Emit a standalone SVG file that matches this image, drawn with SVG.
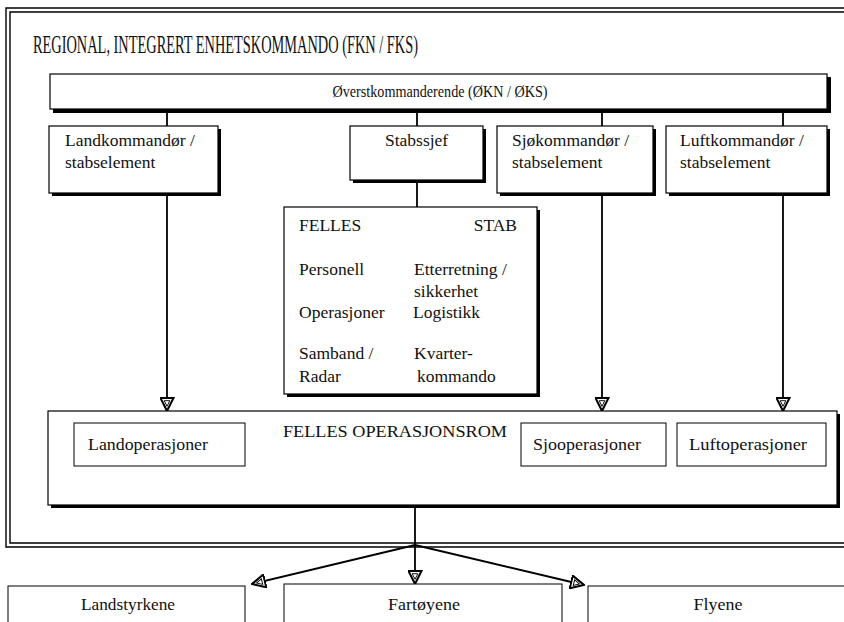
<svg xmlns="http://www.w3.org/2000/svg" width="844" height="622" viewBox="0 0 844 622">
  <defs>
    <style>
      .box { fill: #fff; stroke: #000; stroke-width: 1.2; }
      .shadow { fill: #000; }
      .thin { fill: #fff; stroke: #000; stroke-width: 1; }
      .frame { fill: none; stroke: #000; stroke-width: 1.4; }
      .t { font-family: "Liberation Serif", "Times New Roman", serif; font-size: 17.5px; fill: #111; }
      .title { font-family: "Liberation Serif", "Times New Roman", serif; font-size: 25px; fill: #111; }
      .wire { stroke: #000; stroke-width: 1.8; fill: none; }
    </style>
    <!-- hollow triangular arrowhead, drawn pointing along +x -->
    <marker id="tri" viewBox="0 0 16 16" refX="15" refY="8" markerWidth="15" markerHeight="15" markerUnits="userSpaceOnUse" orient="auto">
      <path d="M1,1 L15,8 L1,15 Z" fill="#fff" stroke="#000" stroke-width="2.2"/>
      <path d="M4,5 L10,8 L4,11 Z" fill="none" stroke="#000" stroke-width="1"/>
    </marker>
  </defs>

  <rect width="844" height="622" fill="#fff"/>

  <!-- outer double frame of the regional command -->
  <g id="frame">
    <path class="frame" d="M844,8 H6 V547 H844"/>
    <path class="frame" d="M844,12 H10 V543 H844"/>
    <text class="title" x="33" y="53" textLength="385" lengthAdjust="spacingAndGlyphs">REGIONAL, INTEGRERT ENHETSKOMMANDO (FKN / FKS)</text>
  </g>

  <!-- connectors -->
  <g id="connectors">
    <line class="wire" x1="167" y1="110" x2="167" y2="126"/>
    <line class="wire" x1="417" y1="110" x2="417" y2="126"/>
    <line class="wire" x1="602" y1="110" x2="602" y2="126"/>
    <line class="wire" x1="783" y1="110" x2="783" y2="126"/>
    <line class="wire" x1="417" y1="180" x2="417" y2="207"/>
    <line class="wire" x1="167" y1="193" x2="167" y2="411" marker-end="url(#tri)"/>
    <line class="wire" x1="602" y1="193" x2="602" y2="411" marker-end="url(#tri)"/>
    <line class="wire" x1="783" y1="193" x2="783" y2="411" marker-end="url(#tri)"/>
    <line class="wire" x1="415" y1="505" x2="415" y2="584" marker-end="url(#tri)"/>
    <line class="wire" x1="415" y1="545" x2="252" y2="584" marker-end="url(#tri)"/>
    <line class="wire" x1="415" y1="545" x2="584" y2="585" marker-end="url(#tri)"/>
  </g>

  <!-- supreme commander -->
  <g id="overstkommanderende">
    <rect class="shadow" x="53" y="77" width="778" height="36"/>
    <rect class="box" x="50" y="74" width="777" height="35"/>
    <text class="t" x="440" y="97" text-anchor="middle" textLength="215" lengthAdjust="spacingAndGlyphs">Øverstkommanderende (ØKN / ØKS)</text>
  </g>

  <g id="landkommandor">
    <rect class="shadow" x="52" y="129" width="169" height="67"/>
    <rect class="box" x="49" y="126" width="169" height="67"/>
    <text class="t" x="65" y="146">Landkommandør /</text>
    <text class="t" x="65" y="168">stabselement</text>
  </g>

  <g id="stabssjef">
    <rect class="shadow" x="353" y="129" width="133" height="54"/>
    <rect class="box" x="350" y="126" width="133" height="54"/>
    <text class="t" x="385" y="146">Stabssjef</text>
  </g>

  <g id="sjokommandor">
    <rect class="shadow" x="500" y="129" width="156" height="67"/>
    <rect class="box" x="497" y="126" width="156" height="67"/>
    <text class="t" x="512" y="146">Sjøkommandør /</text>
    <text class="t" x="512" y="168">stabselement</text>
  </g>

  <g id="luftkommandor">
    <rect class="shadow" x="669" y="129" width="161" height="67"/>
    <rect class="box" x="666" y="126" width="161" height="67"/>
    <text class="t" x="680" y="146">Luftkommandør /</text>
    <text class="t" x="680" y="168">stabselement</text>
  </g>

  <!-- joint staff -->
  <g id="felles-stab">
    <rect class="shadow" x="287" y="210" width="253" height="187"/>
    <rect class="box" x="284" y="207" width="253" height="187"/>
    <text class="t" x="299" y="231">FELLES</text>
    <text class="t" x="517" y="231" text-anchor="end">STAB</text>
    <text class="t" x="299" y="275">Personell</text>
    <text class="t" x="414" y="275">Etterretning /</text>
    <text class="t" x="414" y="297">sikkerhet</text>
    <text class="t" x="299" y="318">Operasjoner</text>
    <text class="t" x="413" y="318">Logistikk</text>
    <text class="t" x="299" y="359">Samband /</text>
    <text class="t" x="414" y="359">Kvarter-</text>
    <text class="t" x="299" y="382">Radar</text>
    <text class="t" x="417" y="382">kommando</text>
  </g>

  <!-- joint operations room -->
  <g id="felles-operasjonsrom">
    <rect class="shadow" x="51" y="414" width="789" height="94"/>
    <rect class="box" x="48" y="411" width="789" height="94"/>
    <text class="t" x="283" y="437" textLength="224" lengthAdjust="spacingAndGlyphs">FELLES OPERASJONSROM</text>
  </g>

  <g id="landoperasjoner">
    <rect class="thin" x="74" y="423" width="171" height="43"/>
    <text class="t" x="88" y="450" textLength="120" lengthAdjust="spacingAndGlyphs">Landoperasjoner</text>
  </g>

  <g id="sjooperasjoner">
    <rect class="thin" x="521" y="423" width="145" height="43"/>
    <text class="t" x="533" y="450" textLength="108" lengthAdjust="spacingAndGlyphs">Sjooperasjoner</text>
  </g>

  <g id="luftoperasjoner">
    <rect class="thin" x="677" y="423" width="149" height="43"/>
    <text class="t" x="689" y="450" textLength="118" lengthAdjust="spacingAndGlyphs">Luftoperasjoner</text>
  </g>

  <!-- forces -->
  <g id="landstyrkene">
    <rect class="thin" x="8" y="586" width="237" height="50"/>
    <text class="t" x="128" y="610" text-anchor="middle" textLength="94" lengthAdjust="spacingAndGlyphs">Landstyrkene</text>
  </g>

  <g id="fartoyene">
    <rect class="thin" x="284" y="584" width="278" height="50"/>
    <text class="t" x="424" y="610" text-anchor="middle" textLength="72" lengthAdjust="spacingAndGlyphs">Fartøyene</text>
  </g>

  <g id="flyene">
    <rect class="thin" x="588" y="586" width="260" height="50"/>
    <text class="t" x="718" y="610" text-anchor="middle" textLength="49" lengthAdjust="spacingAndGlyphs">Flyene</text>
  </g>
</svg>
